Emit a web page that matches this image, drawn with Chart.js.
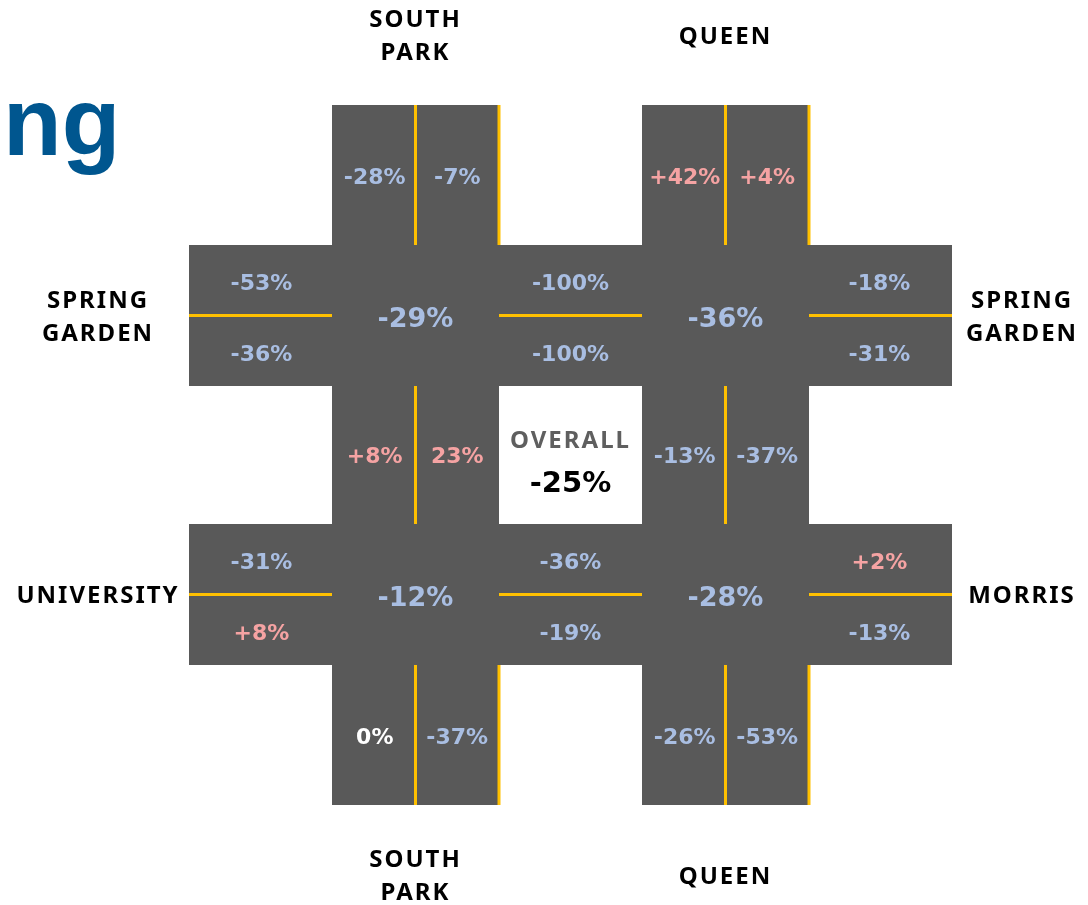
<!DOCTYPE html>
<html>
<head>
<meta charset="utf-8">
<script src="https://cdn.jsdelivr.net/npm/chart.js@4/dist/chart.umd.min.js"></script>
<style>
  html, body { margin: 0; padding: 0; background: #fff; }
  #wrap { width: 1088px; height: 905px; position: relative; }
</style>
</head>
<body>
<div id="wrap"><canvas id="grid"></canvas></div>
<script>
// ======= DATA (percent change per street segment) =======
const titleText = "ng";
const overallLabel = "OVERALL";
const overallValue = -25;

// north-south streets (left one, right one) and east-west streets (left label, right label)
const nsStreets = [["SOUTH", "PARK"], ["QUEEN"]];
const ewLeft = [["SPRING", "GARDEN"], ["UNIVERSITY"]];
const ewRight = [["SPRING", "GARDEN"], ["MORRIS"]];

// north-south segments: [left lane, right lane]
const topSouthPark = [-28, -7];
const topQueen = [42, 4];
const midSouthPark = [8, 23];
const midQueen = [-13, -37];
const botSouthPark = [0, -37];
const botQueen = [-26, -53];

// east-west segments: [upper lane, lower lane]
const springWest = [-53, -36];
const springMid = [-100, -100];
const springEast = [-18, -31];
const univWest = [-31, 8];
const univMid = [-36, -19];
const morrisEast = [2, -13];

// intersections
const intersections = [-29, -36, -12, -28];

// the source prints this one without a plus sign
const unsigned = { midSouthPark1: true };

// ======= LAYOUT (in scale units, = page pixels) =======
const colX = [[332, 499], [642, 809]];   // north-south road edges
const rowY = [[245, 386], [524, 665]];   // east-west road edges
const roadLeft = 189, roadRight = 952, roadTop = 105, roadBottom = 805;

const ROAD = "#595959";
const YELLOW = "#ffc000";
const NEG = "#a9bee2";
const POS = "#f5a3a3";
const ZERO = "#ffffff";

function fmt(v, plain) {
  if (v > 0 && !plain) return "+" + v + "%";
  return v + "%";
}
function colorOf(v) { return v > 0 ? POS : (v < 0 ? NEG : ZERO); }

// ======= YELLOW LINES AS LINE DATASETS =======
function seg(x1, y1, x2, y2) {
  return {
    type: "line",
    data: [{ x: x1, y: y1 }, { x: x2, y: y2 }],
    borderColor: YELLOW,
    borderWidth: 3,
    pointRadius: 0,
    borderCapStyle: "butt",
    fill: false
  };
}
let lines = [];
colX.forEach(([l, r]) => {
  let c = (l + r) / 2;
  // center lines on all three vertical pieces
  lines.push(seg(c, roadTop, c, rowY[0][0]));
  lines.push(seg(c, rowY[0][1], c, rowY[1][0]));
  lines.push(seg(c, rowY[1][1], c, roadBottom));
  // curb lines on the outer pieces
  lines.push(seg(r, roadTop, r, rowY[0][0]));
  lines.push(seg(r, rowY[1][1], r, roadBottom));
});
rowY.forEach(([t, b]) => {
  let c = (t + b) / 2;
  lines.push(seg(roadLeft, c, colX[0][0], c));
  lines.push(seg(colX[0][1], c, colX[1][0], c));
  lines.push(seg(colX[1][1], c, roadRight, c));
});

// ======= PLUGIN: ROAD SURFACE =======
const roadsPlugin = {
  id: "roads",
  beforeDatasetsDraw(chart) {
    const { ctx, scales: { x, y } } = chart;
    ctx.save();
    ctx.fillStyle = ROAD;
    const rect = (x1, y1, x2, y2) => {
      let px = x.getPixelForValue(x1), py = y.getPixelForValue(y1);
      ctx.fillRect(px, py, x.getPixelForValue(x2) - px, y.getPixelForValue(y2) - py);
    };
    colX.forEach(([l, r]) => rect(l, roadTop, r, roadBottom));
    rowY.forEach(([t, b]) => rect(roadLeft, t, roadRight, b));
    ctx.restore();
  }
};

// ======= PLUGIN: LABELS =======
const labelsPlugin = {
  id: "labels",
  afterDatasetsDraw(chart) {
    const { ctx, scales: { x, y } } = chart;
    const text = (s, vx, vy, font, color, spacing) => {
      ctx.font = font;
      ctx.fillStyle = color;
      ctx.letterSpacing = (spacing || 0) + "px";
      ctx.fillText(s, x.getPixelForValue(vx), y.getPixelForValue(vy));
    };
    ctx.save();
    ctx.textAlign = "center";
    ctx.textBaseline = "middle";

    const segFont = "bold 22px 'DejaVu Sans'";
    const bigFont = "bold 27px 'DejaVu Sans'";
    const val = (v, vx, vy, plain, font) => text(fmt(v, plain), vx, vy, font || segFont, colorOf(v), 0);

    // north-south lanes
    const lanes = ([l, r]) => [(l + (l + r) / 2) / 2 + 1, ((l + r) / 2 + r) / 2];
    const nsY = [(roadTop + rowY[0][0]) / 2 + 3, (rowY[0][1] + rowY[1][0]) / 2 + 2, (rowY[1][1] + roadBottom) / 2 + 3];
    [[topSouthPark, topQueen], [midSouthPark, midQueen], [botSouthPark, botQueen]].forEach((pair, ri) => {
      pair.forEach((vals, ci) => {
        let lx = lanes(colX[ci]);
        vals.forEach((v, k) => {
          let plain = ri === 1 && ci === 0 && unsigned["midSouthPark" + k];
          val(v, lx[k], nsY[ri], plain);
        });
      });
    });

    // east-west lanes
    const ewX = [(roadLeft + colX[0][0]) / 2 + 1, (colX[0][1] + colX[1][0]) / 2, (colX[1][1] + roadRight) / 2 - 1];
    [[springWest, springMid, springEast], [univWest, univMid, morrisEast]].forEach((row, ri) => {
      let [t, b] = rowY[ri];
      let c = (t + b) / 2;
      row.forEach((vals, si) => {
        val(vals[0], ewX[si], c - 31, false);
        val(vals[1], ewX[si], c + 40, false);
      });
    });

    // intersections
    intersections.forEach((v, i) => {
      let ri = Math.floor(i / 2), ci = i % 2;
      val(v, (colX[ci][0] + colX[ci][1]) / 2, (rowY[ri][0] + rowY[ri][1]) / 2 + 4, false, bigFont);
    });

    // overall block
    let ox = (colX[0][1] + colX[1][0]) / 2;
    text(overallLabel, ox, 441, "bold 24px 'Noto Sans'", "#5f5f5f", 2);
    text(fmt(overallValue), ox, 484, "bold 29px 'DejaVu Sans'", "#000000", 0);

    // street names
    const stFont = "bold 24px 'Noto Sans'";
    const stack = (parts, vx, vy) => {
      let top = vy - (parts.length - 1) * 16.5;
      parts.forEach((p, i) => text(p, vx, top + i * 33, stFont, "#000000", 2));
    };
    nsStreets.forEach((parts, i) => {
      let cx = (colX[i][0] + colX[i][1]) / 2;
      stack(parts, cx, 37);
      stack(parts, cx, 877);
    });
    ewLeft.forEach((parts, i) => stack(parts, 98, (rowY[i][0] + rowY[i][1]) / 2 + 2));
    ewRight.forEach((parts, i) => stack(parts, 1022, (rowY[i][0] + rowY[i][1]) / 2 + 2));

    // cut-off title
    ctx.textAlign = "left";
    ctx.textBaseline = "alphabetic";
    text(titleText, 3, 155, "bold 96px 'Liberation Sans'", "#00568f", 0);
    ctx.restore();
  }
};

// ======= CHART =======
new Chart(document.getElementById("grid"), {
  type: "scatter",
  data: { datasets: lines },
  options: {
    responsive: true,
    maintainAspectRatio: false,
    animation: false,
    layout: { padding: 0 },
    plugins: { legend: { display: false }, tooltip: { enabled: false } },
    scales: {
      x: { type: "linear", min: 0, max: 1088, display: false },
      y: { type: "linear", min: 0, max: 905, reverse: true, display: false }
    }
  },
  plugins: [roadsPlugin, labelsPlugin]
});
</script>
</body>
</html>
